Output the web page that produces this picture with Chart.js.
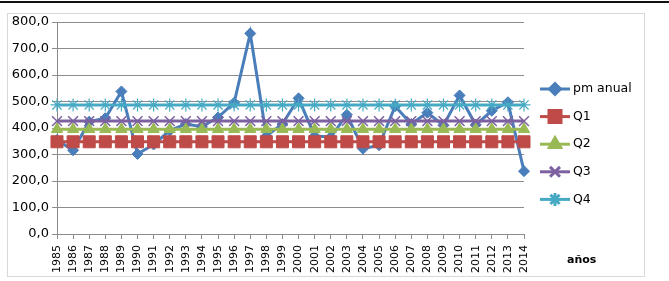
<!DOCTYPE html>
<html>
<head>
<meta charset="utf-8">
<script src="https://cdn.jsdelivr.net/npm/chart.js@4/dist/chart.umd.min.js"></script>
<style>
  html, body { margin: 0; padding: 0; background: #fff; }
  body { width: 669px; height: 281px; position: relative; overflow: hidden; }
  #topline { position: absolute; left: 0; top: 1px; width: 669px; height: 2px; background: #111; }
  #frame { position: absolute; left: 7px; top: 13px; width: 636px; height: 262px; border: 1px solid #d9d9d9; }
  #myChart { position: absolute; left: 0; top: 0; }
</style>
</head>
<body>
<div id="topline"></div>
<div id="frame"></div>
<canvas id="myChart" width="669" height="281"></canvas>
<script>
const years = ["1985","1986","1987","1988","1989","1990","1991","1992","1993","1994",
  "1995","1996","1997","1998","1999","2000","2001","2002","2003","2004",
  "2005","2006","2007","2008","2009","2010","2011","2012","2013","2014"];
const pmAnual = [355,316,424,437,538,302,338,390,415,405,440,495,757,370,415,
  512,370,366,450,322,335,482,415,458,410,523,412,465,497,237];
const q1 = 348;
const q2 = 395;
const q3 = 426;
const q4 = 487;
const yTicks = [0,100,200,300,400,500,600,700,800];

const flat = v => years.map(() => v);

// legend drawn like excel: short line with marker in the middle
const excelLegend = {
  id: 'excelLegend',
  afterDraw(chart) {
    const ctx = chart.ctx;
    ctx.save();
    chart.data.datasets.forEach((ds, i) => {
      const y = 89 + i * 27.6;
      ctx.strokeStyle = ds.borderColor;
      ctx.lineWidth = 3;
      ctx.beginPath();
      ctx.moveTo(540, y);
      ctx.lineTo(570, y);
      ctx.stroke();
      ctx.fillStyle = ds.pointBackgroundColor;
      ctx.strokeStyle = ds.pointBorderColor;
      Chart.helpers.drawPoint(ctx, {
        pointStyle: ds.pointStyle,
        radius: ds.pointRadius,
        rotation: 0,
        borderWidth: ds.pointBorderWidth
      }, 555, y);
      ctx.fillStyle = '#000';
      ctx.font = '12.5px "DejaVu Sans"';
      ctx.textBaseline = 'middle';
      ctx.textAlign = 'left';
      ctx.fillText(ds.label, 573, y);
    });
    ctx.font = 'bold 11px "DejaVu Sans"';
    ctx.fillStyle = '#000';
    ctx.textBaseline = 'middle';
    ctx.fillText('años', 567, 260);
    ctx.restore();
  }
};

new Chart(document.getElementById("myChart"), {
  type: 'line',
  data: {
    labels: years,
    datasets: [{
      label: "pm anual",
      data: pmAnual,
      borderColor: "#4a7ebb",
      pointBackgroundColor: "#4a7ebb",
      pointBorderColor: "#4a7ebb",
      pointStyle: 'rectRot',
      pointRadius: 5.5,
      pointBorderWidth: 1,
      borderWidth: 3,
      order: 5
    }, {
      label: "Q1",
      data: flat(q1),
      borderColor: "#be4b48",
      pointBackgroundColor: "#be4b48",
      pointBorderColor: "#be4b48",
      pointStyle: 'rect',
      pointRadius: 8.5,
      pointBorderWidth: 1,
      borderWidth: 3,
      order: 4
    }, {
      label: "Q2",
      data: flat(q2),
      borderColor: "#98b954",
      pointBackgroundColor: "#98b954",
      pointBorderColor: "#98b954",
      pointStyle: 'triangle',
      pointRadius: 6.5,
      pointBorderWidth: 1,
      borderWidth: 3,
      order: 3
    }, {
      label: "Q3",
      data: flat(q3),
      borderColor: "#7d60a0",
      pointBackgroundColor: "#7d60a0",
      pointBorderColor: "#7d60a0",
      pointStyle: 'crossRot',
      pointRadius: 7,
      pointBorderWidth: 1.5,
      borderWidth: 3,
      order: 2
    }, {
      label: "Q4",
      data: flat(q4),
      borderColor: "#46aac5",
      pointBackgroundColor: "#46aac5",
      pointBorderColor: "#46aac5",
      pointStyle: 'star',
      pointRadius: 6.5,
      pointBorderWidth: 1.2,
      borderWidth: 3,
      order: 1
    }]
  },
  options: {
    responsive: false,
    animation: false,
    layout: { padding: { left: 0, right: 145, top: 22, bottom: 0 } },
    plugins: {
      legend: { display: false },
      tooltip: { enabled: false }
    },
    scales: {
      x: {
        offset: false,
        afterFit: s => { s.height = 47; },
        grid: { drawOnChartArea: false, drawTicks: true, tickLength: 5, color: '#8c8c8c' },
        border: { color: '#8c8c8c' },
        ticks: {
          autoSkip: false, minRotation: 90, maxRotation: 90, padding: 6,
          color: '#000', font: { family: 'DejaVu Sans', size: 11 }
        }
      },
      y: {
        min: 0, max: 800,
        afterFit: s => { s.width = 57; },
        afterBuildTicks: s => { s.ticks = yTicks.map(v => ({ value: v })); },
        grid: { color: '#8c8c8c', tickLength: 5 },
        border: { color: '#8c8c8c' },
        ticks: {
          padding: 3, color: '#000',
          font: { family: 'DejaVu Sans', size: 13 },
          callback: v => v.toFixed(1).replace('.', ',')
        }
      }
    }
  },
  plugins: [excelLegend]
});
</script>
</body>
</html>
